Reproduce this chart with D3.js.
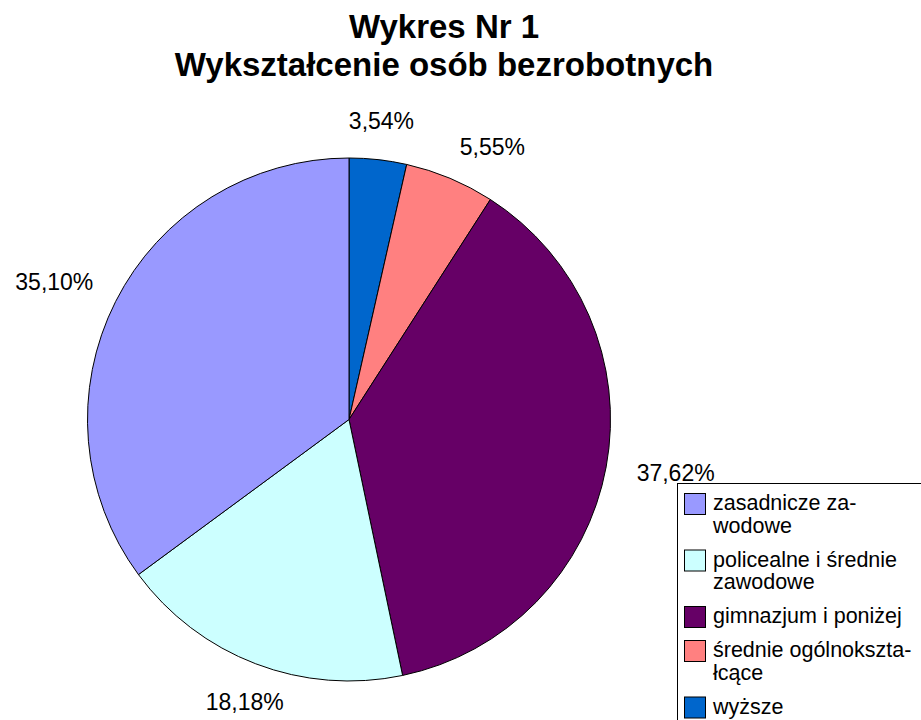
<!DOCTYPE html>
<html lang="pl">
  <head>
    <meta charset="UTF-8" />
    <title>Wykres Nr 1</title>
    <style>
      body { margin: 0; background: #fff; }
      svg { font-family: "Liberation Sans", Arial, sans-serif; }
      .slice { stroke: #000; stroke-width: 1; }
      .label { font-size: 23px; fill: #000; }
      .legend text { font-size: 21.5px; fill: #000; }
    </style>
  </head>
  <body>
    <svg id="chart" width="921" height="720"></svg>
    <script src="https://cdn.jsdelivr.net/npm/d3@7"></script>
    <script>
      // data, in legend order
      const categories = [
        "zasadnicze zawodowe",
        "policealne i średnie zawodowe",
        "gimnazjum i poniżej",
        "średnie ogólnokształcące",
        "wyższe",
      ];
      const shares = [35.10, 18.18, 37.62, 5.55, 3.54];
      const legendLines = [
        ["zasadnicze za-", "wodowe"],
        ["policealne i średnie", "zawodowe"],
        ["gimnazjum i poniżej"],
        ["średnie ogólnokszta-", "łcące"],
        ["wyższe"],
      ];
      const colors = ["#9999FF", "#CCFFFF", "#660066", "#FF8080", "#0066CC"];
      const titleLines = ["Wykres Nr 1", "Wykształcenie osób bezrobotnych"];

      const svg = d3.select("#chart");
      const cx = 349, cy = 419.5, radius = 261.5;

      // title
      svg.append("text")
        .attr("text-anchor", "middle")
        .style("font-size", "33px")
        .style("font-weight", "bold")
        .selectAll("tspan")
        .data(titleLines)
        .join("tspan")
        .attr("x", 444)
        .attr("y", (d, i) => 38 + i * 38)
        .text((d) => d);

      // slices go clockwise from 12 o'clock in reverse legend order
      const rows = categories.map((c, i) => ({ name: c, value: shares[i], color: colors[i] })).reverse();
      const pie = d3.pie().sort(null).value((d) => d.value);
      const arc = d3.arc().innerRadius(0).outerRadius(radius);
      const arcs = pie(rows);

      const g = svg.append("g").attr("transform", `translate(${cx},${cy})`);
      g.selectAll("path")
        .data(arcs)
        .join("path")
        .attr("class", "slice")
        .attr("fill", (d) => d.data.color)
        .attr("d", arc);

      // outside labels, aligned by the direction of the slice middle
      const fmt = d3.formatLocale({ decimal: ",", thousands: " ", grouping: [3], currency: ["", ""] }).format(".2f");
      const labels = g.selectAll("text.label")
        .data(arcs)
        .join("text")
        .attr("class", "label")
        .attr("text-anchor", "middle")
        .text((d) => fmt(d.data.value) + "%");

      const dirs = [[1, 0], [1, -1], [0, -1], [-1, -1], [-1, 0], [-1, 1], [0, 1], [1, 1]];
      labels.each(function (d) {
        const w = this.getComputedTextLength(), h = 17;
        const a = (d.startAngle + d.endAngle) / 2;
        let deg = 90 - (a * 180) / Math.PI;
        deg = ((deg % 360) + 360) % 360;
        // 8 sectors: fx/fy = where the label sits relative to its anchor point
        const [fx, fy] = dirs[Math.round(deg / 45) % 8];
        const off = fx !== 0 && fy !== 0 ? 25 : 31;
        const px = Math.sin(a) * (radius + off);
        const py = -Math.cos(a) * (radius + off);
        d3.select(this)
          .attr("x", px + (fx * w) / 2)
          .attr("y", py + (fy * h) / 2 + h / 2);
      });

      // legend
      const legend = svg.append("g").attr("class", "legend");
      legend.append("rect")
        .attr("x", 677.5).attr("y", 483.5)
        .attr("width", 300).attr("height", 300)
        .attr("fill", "#fff").attr("stroke", "#000");

      const lineH = 22.5, gap = 11.5;
      let itemY = 493;
      categories.forEach((c, i) => {
        const item = legend.append("g").attr("transform", `translate(0,${itemY})`);
        item.append("rect")
          .attr("x", 684.5).attr("y", 0.5)
          .attr("width", 21).attr("height", 21)
          .attr("fill", colors[i]).attr("stroke", "#000");
        item.append("text")
          .selectAll("tspan")
          .data(legendLines[i])
          .join("tspan")
          .attr("x", 713)
          .attr("y", (d, k) => 17 + k * lineH)
          .text((d) => d);
        itemY += legendLines[i].length * lineH + gap;
      });
    </script>
  </body>
</html>
